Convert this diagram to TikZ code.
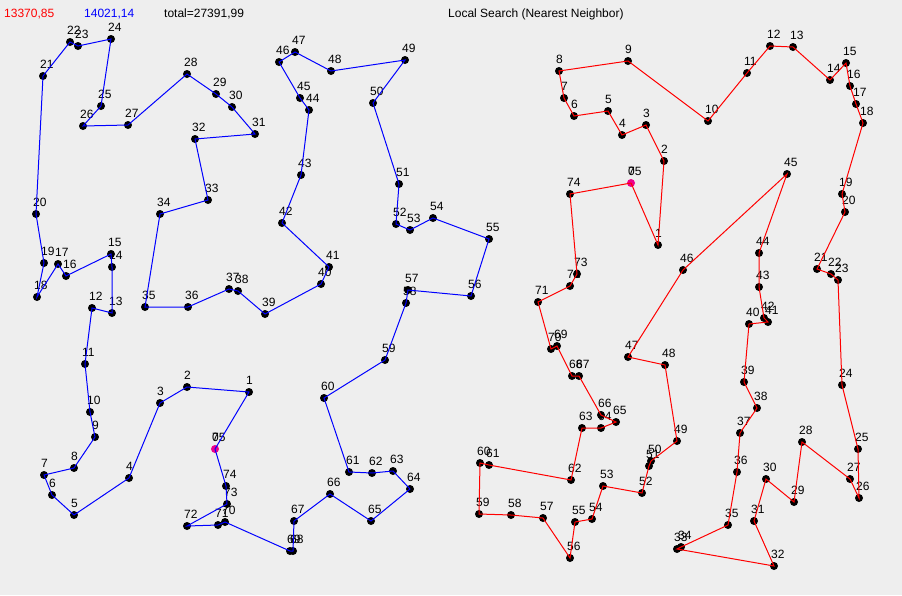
\documentclass[tikz,border=0pt]{standalone}
\usepackage{fontspec}
\setmainfont{Liberation Sans}
\newlength{\du}
\setlength{\du}{1pt}
\tikzset{
  city/.style={circle, fill=black, inner sep=0pt, minimum size=8\du},
  startcity/.style={city, fill=magenta},
  num/.style={anchor=base west, inner sep=0pt, font=\fontsize{12}{14}\selectfont},
  bluetour/.style={draw=blue, line width=1\du},
  redtour/.style={draw=red, line width=1\du}
}
\begin{document}
\begin{tikzpicture}
\pgftransformxscale{1.000000}
\pgftransformyscale{-1.000000}
\definecolor{dialinecolor}{rgb}{0.933333, 0.933333, 0.933333}
\fill[dialinecolor] (0\du,0\du) rectangle (902\du,595\du);
\useasboundingbox (0\du,0\du) rectangle (902\du,595\du);
% header
\node[num, text=red] (lenred) at (4\du,17\du){13370,85};
\node[num, text=blue] (lenblue) at (84\du,17\du){14021,14};
\node[num] (lentotal) at (164\du,17\du){total=27391,99};
\node[num] (title) at (448\du,17\du){Local Search (Nearest Neighbor)};
% left tour
\node[startcity] (b0) at (215\du,449\du){};
\node[num] (b0n) at (212\du,441\du){0};
\node[city] (b1) at (249\du,392\du){};
\node[num] (b1n) at (246\du,384\du){1};
\node[city] (b2) at (187\du,387\du){};
\node[num] (b2n) at (184\du,379\du){2};
\node[city] (b3) at (160\du,403\du){};
\node[num] (b3n) at (157\du,395\du){3};
\node[city] (b4) at (129\du,478\du){};
\node[num] (b4n) at (126\du,470\du){4};
\node[city] (b5) at (74\du,515\du){};
\node[num] (b5n) at (71\du,507\du){5};
\node[city] (b6) at (52\du,495\du){};
\node[num] (b6n) at (49\du,487\du){6};
\node[city] (b7) at (44\du,475\du){};
\node[num] (b7n) at (41\du,467\du){7};
\node[city] (b8) at (74\du,468\du){};
\node[num] (b8n) at (71\du,460\du){8};
\node[city] (b9) at (95\du,437\du){};
\node[num] (b9n) at (92\du,429\du){9};
\node[city] (b10) at (90\du,412\du){};
\node[num] (b10n) at (87\du,404\du){10};
\node[city] (b11) at (85\du,364\du){};
\node[num] (b11n) at (82\du,356\du){11};
\node[city] (b12) at (92\du,308\du){};
\node[num] (b12n) at (89\du,300\du){12};
\node[city] (b13) at (112\du,313\du){};
\node[num] (b13n) at (109\du,305\du){13};
\node[city] (b14) at (112\du,267\du){};
\node[num] (b14n) at (109\du,259\du){14};
\node[city] (b15) at (111\du,254\du){};
\node[num] (b15n) at (108\du,246\du){15};
\node[city] (b16) at (66\du,276\du){};
\node[num] (b16n) at (63\du,268\du){16};
\node[city] (b17) at (58\du,264\du){};
\node[num] (b17n) at (55\du,256\du){17};
\node[city] (b18) at (37\du,297\du){};
\node[num] (b18n) at (34\du,289\du){18};
\node[city] (b19) at (44\du,263\du){};
\node[num] (b19n) at (41\du,255\du){19};
\node[city] (b20) at (36\du,214\du){};
\node[num] (b20n) at (33\du,206\du){20};
\node[city] (b21) at (43\du,76\du){};
\node[num] (b21n) at (40\du,68\du){21};
\node[city] (b22) at (70\du,42\du){};
\node[num] (b22n) at (67\du,34\du){22};
\node[city] (b23) at (78\du,46\du){};
\node[num] (b23n) at (75\du,38\du){23};
\node[city] (b24) at (111\du,39\du){};
\node[num] (b24n) at (108\du,31\du){24};
\node[city] (b25) at (101\du,106\du){};
\node[num] (b25n) at (98\du,98\du){25};
\node[city] (b26) at (83\du,126\du){};
\node[num] (b26n) at (80\du,118\du){26};
\node[city] (b27) at (128\du,125\du){};
\node[num] (b27n) at (125\du,117\du){27};
\node[city] (b28) at (187\du,74\du){};
\node[num] (b28n) at (184\du,66\du){28};
\node[city] (b29) at (216\du,94\du){};
\node[num] (b29n) at (213\du,86\du){29};
\node[city] (b30) at (232\du,107\du){};
\node[num] (b30n) at (229\du,99\du){30};
\node[city] (b31) at (255\du,134\du){};
\node[num] (b31n) at (252\du,126\du){31};
\node[city] (b32) at (195\du,139\du){};
\node[num] (b32n) at (192\du,131\du){32};
\node[city] (b33) at (208\du,200\du){};
\node[num] (b33n) at (205\du,192\du){33};
\node[city] (b34) at (160\du,214\du){};
\node[num] (b34n) at (157\du,206\du){34};
\node[city] (b35) at (145\du,307\du){};
\node[num] (b35n) at (142\du,299\du){35};
\node[city] (b36) at (188\du,307\du){};
\node[num] (b36n) at (185\du,299\du){36};
\node[city] (b37) at (229\du,289\du){};
\node[num] (b37n) at (226\du,281\du){37};
\node[city] (b38) at (238\du,291\du){};
\node[num] (b38n) at (235\du,283\du){38};
\node[city] (b39) at (265\du,314\du){};
\node[num] (b39n) at (262\du,306\du){39};
\node[city] (b40) at (321\du,284\du){};
\node[num] (b40n) at (318\du,276\du){40};
\node[city] (b41) at (329\du,267\du){};
\node[num] (b41n) at (326\du,259\du){41};
\node[city] (b42) at (282\du,223\du){};
\node[num] (b42n) at (279\du,215\du){42};
\node[city] (b43) at (301\du,175\du){};
\node[num] (b43n) at (298\du,167\du){43};
\node[city] (b44) at (309\du,110\du){};
\node[num] (b44n) at (306\du,102\du){44};
\node[city] (b45) at (300\du,98\du){};
\node[num] (b45n) at (297\du,90\du){45};
\node[city] (b46) at (279\du,62\du){};
\node[num] (b46n) at (276\du,54\du){46};
\node[city] (b47) at (295\du,52\du){};
\node[num] (b47n) at (292\du,44\du){47};
\node[city] (b48) at (331\du,71\du){};
\node[num] (b48n) at (328\du,63\du){48};
\node[city] (b49) at (405\du,60\du){};
\node[num] (b49n) at (402\du,52\du){49};
\node[city] (b50) at (373\du,103\du){};
\node[num] (b50n) at (370\du,95\du){50};
\node[city] (b51) at (399\du,184\du){};
\node[num] (b51n) at (396\du,176\du){51};
\node[city] (b52) at (396\du,224\du){};
\node[num] (b52n) at (393\du,216\du){52};
\node[city] (b53) at (410\du,230\du){};
\node[num] (b53n) at (407\du,222\du){53};
\node[city] (b54) at (433\du,218\du){};
\node[num] (b54n) at (430\du,210\du){54};
\node[city] (b55) at (489\du,239\du){};
\node[num] (b55n) at (486\du,231\du){55};
\node[city] (b56) at (471\du,296\du){};
\node[num] (b56n) at (468\du,288\du){56};
\node[city] (b57) at (408\du,290\du){};
\node[num] (b57n) at (405\du,282\du){57};
\node[city] (b58) at (406\du,303\du){};
\node[num] (b58n) at (403\du,295\du){58};
\node[city] (b59) at (385\du,360\du){};
\node[num] (b59n) at (382\du,352\du){59};
\node[city] (b60) at (324\du,398\du){};
\node[num] (b60n) at (321\du,390\du){60};
\node[city] (b61) at (349\du,472\du){};
\node[num] (b61n) at (346\du,464\du){61};
\node[city] (b62) at (372\du,473\du){};
\node[num] (b62n) at (369\du,465\du){62};
\node[city] (b63) at (393\du,471\du){};
\node[num] (b63n) at (390\du,463\du){63};
\node[city] (b64) at (410\du,489\du){};
\node[num] (b64n) at (407\du,481\du){64};
\node[city] (b65) at (371\du,521\du){};
\node[num] (b65n) at (368\du,513\du){65};
\node[city] (b66) at (330\du,494\du){};
\node[num] (b66n) at (327\du,486\du){66};
\node[city] (b67) at (294\du,521\du){};
\node[num] (b67n) at (291\du,513\du){67};
\node[city] (b68) at (293\du,551\du){};
\node[num] (b68n) at (290\du,543\du){68};
\node[city] (b69) at (290\du,551\du){};
\node[num] (b69n) at (287\du,543\du){69};
\node[city] (b70) at (225\du,522\du){};
\node[num] (b70n) at (222\du,514\du){70};
\node[city] (b71) at (218\du,525\du){};
\node[num] (b71n) at (215\du,517\du){71};
\node[city] (b72) at (187\du,526\du){};
\node[num] (b72n) at (184\du,518\du){72};
\node[city] (b73) at (227\du,504\du){};
\node[num] (b73n) at (224\du,496\du){73};
\node[city] (b74) at (226\du,486\du){};
\node[num] (b74n) at (223\du,478\du){74};
\coordinate (b75) at (215\du,449\du);
\node[num] (b75n) at (212\du,441\du){75};
% right tour
\node[startcity] (r0) at (631\du,183\du){};
\node[num] (r0n) at (628\du,175\du){0};
\node[city] (r1) at (658\du,245\du){};
\node[num] (r1n) at (655\du,237\du){1};
\node[city] (r2) at (664\du,161\du){};
\node[num] (r2n) at (661\du,153\du){2};
\node[city] (r3) at (646\du,125\du){};
\node[num] (r3n) at (643\du,117\du){3};
\node[city] (r4) at (622\du,135\du){};
\node[num] (r4n) at (619\du,127\du){4};
\node[city] (r5) at (608\du,111\du){};
\node[num] (r5n) at (605\du,103\du){5};
\node[city] (r6) at (574\du,116\du){};
\node[num] (r6n) at (571\du,108\du){6};
\node[city] (r7) at (564\du,98\du){};
\node[num] (r7n) at (561\du,90\du){7};
\node[city] (r8) at (559\du,71\du){};
\node[num] (r8n) at (556\du,63\du){8};
\node[city] (r9) at (628\du,61\du){};
\node[num] (r9n) at (625\du,53\du){9};
\node[city] (r10) at (708\du,121\du){};
\node[num] (r10n) at (705\du,113\du){10};
\node[city] (r11) at (747\du,73\du){};
\node[num] (r11n) at (744\du,65\du){11};
\node[city] (r12) at (770\du,46\du){};
\node[num] (r12n) at (767\du,38\du){12};
\node[city] (r13) at (793\du,47\du){};
\node[num] (r13n) at (790\du,39\du){13};
\node[city] (r14) at (830\du,80\du){};
\node[num] (r14n) at (827\du,72\du){14};
\node[city] (r15) at (846\du,63\du){};
\node[num] (r15n) at (843\du,55\du){15};
\node[city] (r16) at (850\du,86\du){};
\node[num] (r16n) at (847\du,78\du){16};
\node[city] (r17) at (856\du,104\du){};
\node[num] (r17n) at (853\du,96\du){17};
\node[city] (r18) at (863\du,123\du){};
\node[num] (r18n) at (860\du,115\du){18};
\node[city] (r19) at (842\du,194\du){};
\node[num] (r19n) at (839\du,186\du){19};
\node[city] (r20) at (845\du,212\du){};
\node[num] (r20n) at (842\du,204\du){20};
\node[city] (r21) at (817\du,269\du){};
\node[num] (r21n) at (814\du,261\du){21};
\node[city] (r22) at (831\du,274\du){};
\node[num] (r22n) at (828\du,266\du){22};
\node[city] (r23) at (838\du,280\du){};
\node[num] (r23n) at (835\du,272\du){23};
\node[city] (r24) at (842\du,385\du){};
\node[num] (r24n) at (839\du,377\du){24};
\node[city] (r25) at (858\du,449\du){};
\node[num] (r25n) at (855\du,441\du){25};
\node[city] (r26) at (859\du,498\du){};
\node[num] (r26n) at (856\du,490\du){26};
\node[city] (r27) at (850\du,479\du){};
\node[num] (r27n) at (847\du,471\du){27};
\node[city] (r28) at (802\du,442\du){};
\node[num] (r28n) at (799\du,434\du){28};
\node[city] (r29) at (794\du,502\du){};
\node[num] (r29n) at (791\du,494\du){29};
\node[city] (r30) at (766\du,479\du){};
\node[num] (r30n) at (763\du,471\du){30};
\node[city] (r31) at (754\du,521\du){};
\node[num] (r31n) at (751\du,513\du){31};
\node[city] (r32) at (774\du,566\du){};
\node[num] (r32n) at (771\du,558\du){32};
\node[city] (r33) at (677\du,549\du){};
\node[num] (r33n) at (674\du,541\du){33};
\node[city] (r34) at (681\du,547\du){};
\node[num] (r34n) at (678\du,539\du){34};
\node[city] (r35) at (728\du,525\du){};
\node[num] (r35n) at (725\du,517\du){35};
\node[city] (r36) at (737\du,472\du){};
\node[num] (r36n) at (734\du,464\du){36};
\node[city] (r37) at (740\du,433\du){};
\node[num] (r37n) at (737\du,425\du){37};
\node[city] (r38) at (757\du,408\du){};
\node[num] (r38n) at (754\du,400\du){38};
\node[city] (r39) at (744\du,382\du){};
\node[num] (r39n) at (741\du,374\du){39};
\node[city] (r40) at (749\du,324\du){};
\node[num] (r40n) at (746\du,316\du){40};
\node[city] (r41) at (768\du,322\du){};
\node[num] (r41n) at (765\du,314\du){41};
\node[city] (r42) at (764\du,318\du){};
\node[num] (r42n) at (761\du,310\du){42};
\node[city] (r43) at (759\du,287\du){};
\node[num] (r43n) at (756\du,279\du){43};
\node[city] (r44) at (759\du,253\du){};
\node[num] (r44n) at (756\du,245\du){44};
\node[city] (r45) at (787\du,174\du){};
\node[num] (r45n) at (784\du,166\du){45};
\node[city] (r46) at (683\du,270\du){};
\node[num] (r46n) at (680\du,262\du){46};
\node[city] (r47) at (628\du,357\du){};
\node[num] (r47n) at (625\du,349\du){47};
\node[city] (r48) at (665\du,365\du){};
\node[num] (r48n) at (662\du,357\du){48};
\node[city] (r49) at (677\du,441\du){};
\node[num] (r49n) at (674\du,433\du){49};
\node[city] (r50) at (651\du,461\du){};
\node[num] (r50n) at (648\du,453\du){50};
\node[city] (r51) at (649\du,466\du){};
\node[num] (r51n) at (646\du,458\du){51};
\node[city] (r52) at (642\du,493\du){};
\node[num] (r52n) at (639\du,485\du){52};
\node[city] (r53) at (603\du,486\du){};
\node[num] (r53n) at (600\du,478\du){53};
\node[city] (r54) at (592\du,519\du){};
\node[num] (r54n) at (589\du,511\du){54};
\node[city] (r55) at (575\du,522\du){};
\node[num] (r55n) at (572\du,514\du){55};
\node[city] (r56) at (570\du,558\du){};
\node[num] (r56n) at (567\du,550\du){56};
\node[city] (r57) at (543\du,518\du){};
\node[num] (r57n) at (540\du,510\du){57};
\node[city] (r58) at (511\du,515\du){};
\node[num] (r58n) at (508\du,507\du){58};
\node[city] (r59) at (479\du,514\du){};
\node[num] (r59n) at (476\du,506\du){59};
\node[city] (r60) at (480\du,463\du){};
\node[num] (r60n) at (477\du,455\du){60};
\node[city] (r61) at (489\du,465\du){};
\node[num] (r61n) at (486\du,457\du){61};
\node[city] (r62) at (571\du,480\du){};
\node[num] (r62n) at (568\du,472\du){62};
\node[city] (r63) at (582\du,428\du){};
\node[num] (r63n) at (579\du,420\du){63};
\node[city] (r64) at (601\du,428\du){};
\node[num] (r64n) at (598\du,420\du){64};
\node[city] (r65) at (616\du,422\du){};
\node[num] (r65n) at (613\du,414\du){65};
\node[city] (r66) at (601\du,415\du){};
\node[num] (r66n) at (598\du,407\du){66};
\node[city] (r67) at (579\du,376\du){};
\node[num] (r67n) at (576\du,368\du){67};
\node[city] (r68) at (572\du,376\du){};
\node[num] (r68n) at (569\du,368\du){68};
\node[city] (r69) at (557\du,346\du){};
\node[num] (r69n) at (554\du,338\du){69};
\node[city] (r70) at (551\du,349\du){};
\node[num] (r70n) at (548\du,341\du){70};
\node[city] (r71) at (538\du,302\du){};
\node[num] (r71n) at (535\du,294\du){71};
\node[city] (r72) at (570\du,286\du){};
\node[num] (r72n) at (567\du,278\du){72};
\node[city] (r73) at (577\du,274\du){};
\node[num] (r73n) at (574\du,266\du){73};
\node[city] (r74) at (570\du,194\du){};
\node[num] (r74n) at (567\du,186\du){74};
\coordinate (r75) at (631\du,183\du);
\node[num] (r75n) at (628\du,175\du){75};
% tours
\draw[bluetour] (b0.center)--(b1.center)--(b2.center)--(b3.center)--(b4.center)--(b5.center)--(b6.center)--(b7.center)--(b8.center)--(b9.center)
  --(b10.center)--(b11.center)--(b12.center)--(b13.center)--(b14.center)--(b15.center)--(b16.center)--(b17.center)--(b18.center)--(b19.center)
  --(b20.center)--(b21.center)--(b22.center)--(b23.center)--(b24.center)--(b25.center)--(b26.center)--(b27.center)--(b28.center)--(b29.center)
  --(b30.center)--(b31.center)--(b32.center)--(b33.center)--(b34.center)--(b35.center)--(b36.center)--(b37.center)--(b38.center)--(b39.center)
  --(b40.center)--(b41.center)--(b42.center)--(b43.center)--(b44.center)--(b45.center)--(b46.center)--(b47.center)--(b48.center)--(b49.center)
  --(b50.center)--(b51.center)--(b52.center)--(b53.center)--(b54.center)--(b55.center)--(b56.center)--(b57.center)--(b58.center)--(b59.center)
  --(b60.center)--(b61.center)--(b62.center)--(b63.center)--(b64.center)--(b65.center)--(b66.center)--(b67.center)--(b68.center)--(b69.center)
  --(b70.center)--(b71.center)--(b72.center)--(b73.center)--(b74.center)--(b75);
\draw[redtour] (r0.center)--(r1.center)--(r2.center)--(r3.center)--(r4.center)--(r5.center)--(r6.center)--(r7.center)--(r8.center)--(r9.center)
  --(r10.center)--(r11.center)--(r12.center)--(r13.center)--(r14.center)--(r15.center)--(r16.center)--(r17.center)--(r18.center)--(r19.center)
  --(r20.center)--(r21.center)--(r22.center)--(r23.center)--(r24.center)--(r25.center)--(r26.center)--(r27.center)--(r28.center)--(r29.center)
  --(r30.center)--(r31.center)--(r32.center)--(r33.center)--(r34.center)--(r35.center)--(r36.center)--(r37.center)--(r38.center)--(r39.center)
  --(r40.center)--(r41.center)--(r42.center)--(r43.center)--(r44.center)--(r45.center)--(r46.center)--(r47.center)--(r48.center)--(r49.center)
  --(r50.center)--(r51.center)--(r52.center)--(r53.center)--(r54.center)--(r55.center)--(r56.center)--(r57.center)--(r58.center)--(r59.center)
  --(r60.center)--(r61.center)--(r62.center)--(r63.center)--(r64.center)--(r65.center)--(r66.center)--(r67.center)--(r68.center)--(r69.center)
  --(r70.center)--(r71.center)--(r72.center)--(r73.center)--(r74.center)--(r75);
\end{tikzpicture}
\end{document}
